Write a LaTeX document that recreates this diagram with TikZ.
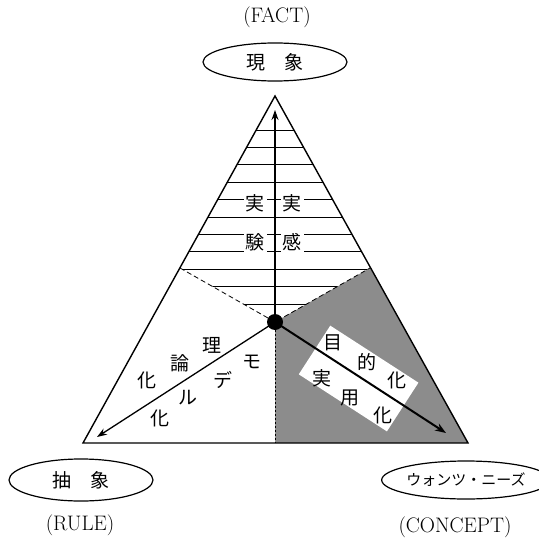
\documentclass[tikz,border=0pt]{standalone}
\usepackage{fontspec}
\newfontfamily\jp{Noto Sans CJK JP}
\newfontfamily\lat{Latin Modern Roman}
\usetikzlibrary{shapes.geometric,arrows.meta}
\begin{document}
\begin{tikzpicture}[x=1pt,y=-1pt,
  edge/.style={line width=1.4pt},
  oval/.style={ellipse,draw,line width=1.2pt,minimum width=144pt,minimum height=38pt,inner sep=0pt,font=\jp\fontsize{19}{22}\selectfont},
  latlab/.style={font=\lat\fontsize{21}{24}\selectfont},
  jch/.style={font=\jp\fontsize{19}{22}\selectfont,inner sep=1pt},
  jwh/.style={jch,fill=white,inner sep=2pt},
  hatch/.style={line width=0.9pt},
  arr/.style={line width=1.3pt,-{Stealth[length=10pt,width=7pt]}},
  arrb/.style={line width=2pt,-{Stealth[length=11pt,width=8pt]}}]
\useasboundingbox (0,0) rectangle (538,540);
% key points
\coordinate (A) at (275,96);
\coordinate (L) at (83,443);
\coordinate (R) at (468,443);
\coordinate (O) at (275,322);
\coordinate (PL) at (180,268);
\coordinate (PR) at (370,268);
\coordinate (B) at (275,443);
\coordinate (EU) at (275,110);
\coordinate (EL) at (97,437);
\coordinate (ER) at (446,433);
% shaded sector
\fill[black!45] (O) -- (PR) -- (R) -- (B) -- cycle;
% white band
\node[fill=white,minimum width=105pt,minimum height=58pt,rotate=-32.9,inner sep=0pt] (band) at (358.6,378.5) {};
% hatched sector
\begin{scope}
  \clip (A) -- (PL) -- (O) -- (PR) -- cycle;
  \foreach \k in {0,...,11} \draw[hatch] (150,{130+17.4*\k}) -- (400,{130+17.4*\k});
\end{scope}
% boundaries
\draw[dash pattern=on 5pt off 3pt,line width=0.8pt] (PL) -- (O) -- (PR);
\draw[dash pattern=on 2pt off 2pt,line width=0.6pt] (O) -- (B);
\draw[edge] (A) -- (L) -- (R) -- cycle;
% arrows
\draw[arr] (O) -- (EU);
\draw[arr] (O) -- (EL);
\draw[arrb] (O) -- (ER);
\fill (O) circle[radius=8pt];
% text in hatched region
\node[jwh] (t1) at (255,203) {実};
\node[jwh] (t2) at (292,203) {実};
\node[jwh] (t3) at (255,242) {験};
\node[jwh] (t4) at (292,242) {感};
% left region
\node[jch] (l1) at (212,345) {理};
\node[jch] (l2) at (180,363) {論};
\node[jch] (l3) at (147,380) {化};
\node[jch] (l4) at (160,418) {化};
\node[jch] (m1) at (252,362) {モ};
\node[jch] (m2) at (223,380) {デ};
\node[jch] (m3) at (188,398) {ル};
% right region
\node[jch] (r1) at (333,343) {目};
\node[jch] (r2) at (367,362) {的};
\node[jch] (r3) at (397,380) {化};
\node[jch] (r4) at (322,378) {実};
\node[jch] (r5) at (350,398) {用};
\node[jch] (r6) at (383,415) {化};
% ellipses and labels
\node[oval] (fact) at (275,62) {現\hspace{1em}象};
\node[latlab] (factl) at (277,17) {(FACT)};
\node[oval,minimum height=42pt] (rule) at (81,480) {抽\hspace{1em}象};
\node[latlab] (rulel) at (80,525) {(RULE)};
\node[oval,font=\jp\fontsize{15}{17}\selectfont] (con) at (466,480) {ウォンツ・ニーズ};
\node[latlab] (conl) at (455,527) {(CONCEPT)};
\end{tikzpicture}
\end{document}
